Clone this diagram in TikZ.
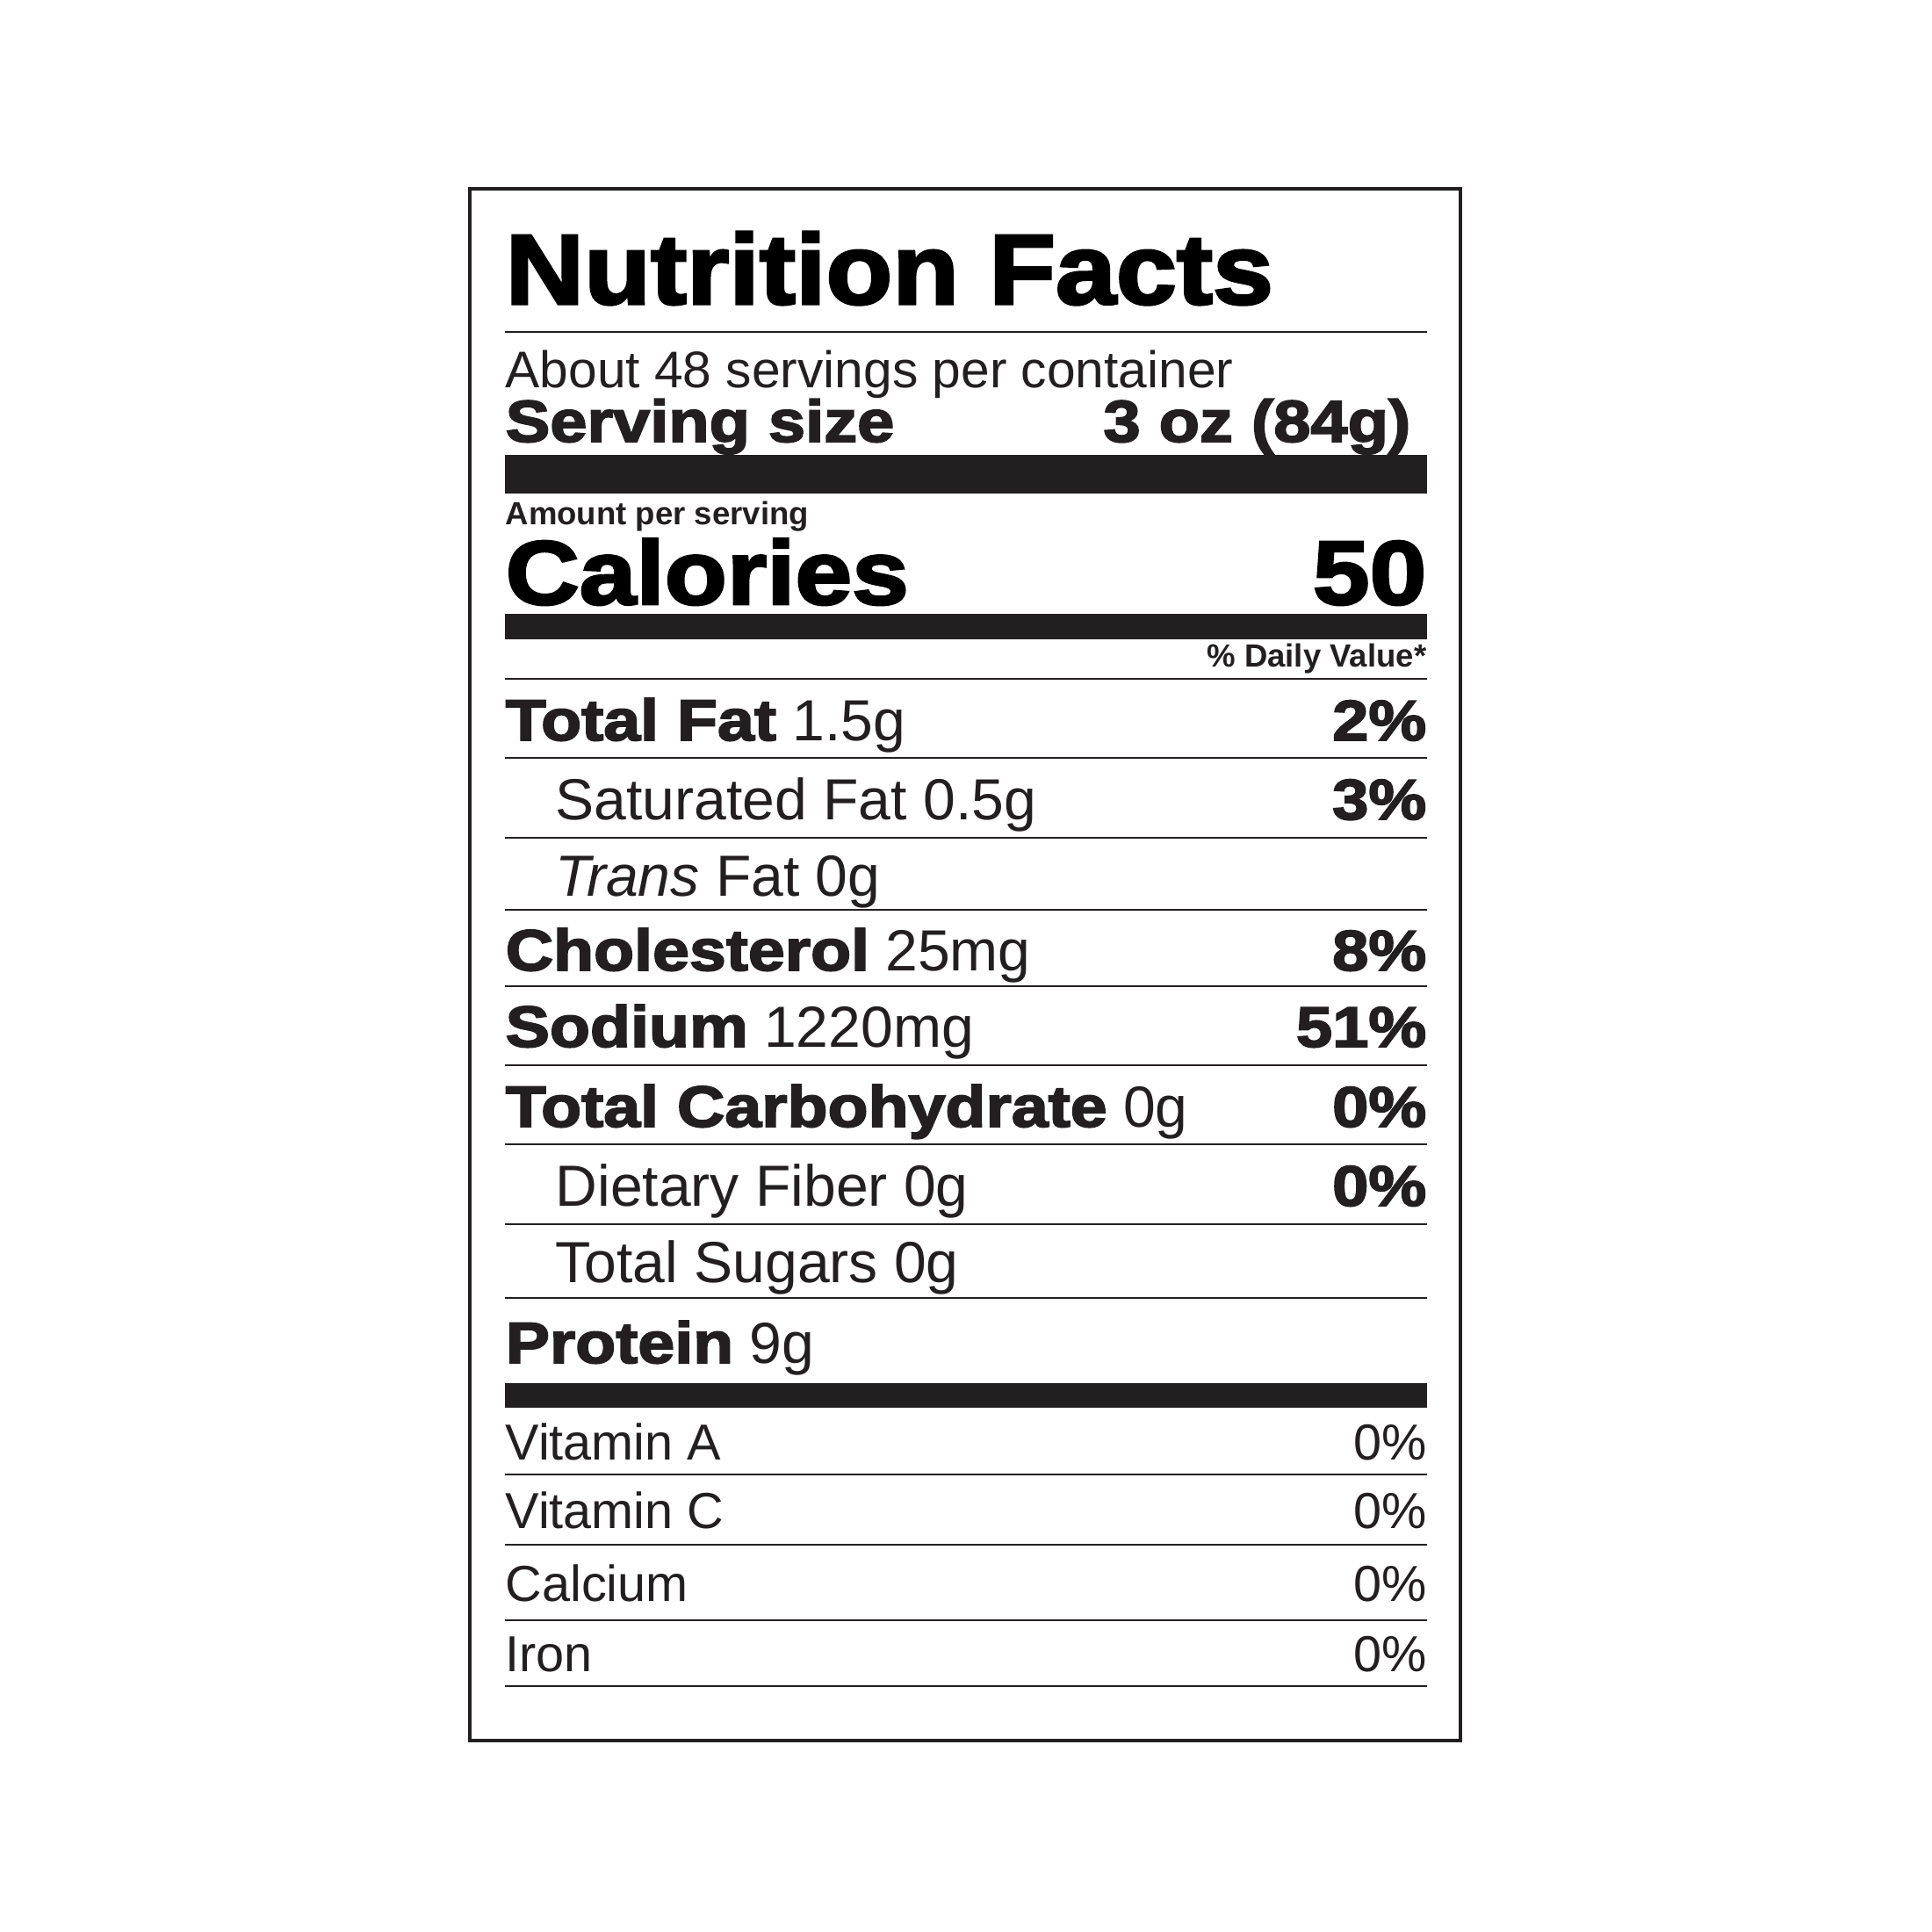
\documentclass[tikz,border=0pt]{standalone}
\usepackage{fontspec}
\setmainfont{Liberation Sans}
\newfontfamily\titlefont{Liberation Sans Bold}[FakeStretch=1.095,FakeBold=2.8]
\newfontfamily\heavy{Liberation Sans Bold}[FakeStretch=1.13,FakeBold=2.8]
\newfontfamily\rowheavy{Liberation Sans Bold}[FakeStretch=1.14,FakeBold=2.8]
\definecolor{ink}{HTML}{231F20}
\newcommand\fsize[1]{\fontsize{#1}{#1}\selectfont}
\tikzset{
  fact/.style={inner sep=0pt, anchor=base west, text=ink},
  fact right/.style={inner sep=0pt, anchor=base east, text=ink},
  hair rule/.style={draw=ink, line width=0.2mm},
  black bar/.style={fill=ink},
  label frame/.style={draw=ink, line width=0.35mm},
}

\begin{document}
\begin{tikzpicture}
\useasboundingbox (0,0) rectangle (22,-22);
\draw[label frame] (5.35,-2.15) rectangle (16.63,-19.82);
% header
\node[fact, text=black] (title) at (5.75,-3.46) {\fsize{32.2pt}\titlefont Nutrition Facts};
\draw[hair rule] (5.75,-3.78) -- (16.25,-3.78);
\node[fact] (servings) at (5.75,-4.41) {\fsize{16.7pt}About 48 servings per container};
\node[fact] (size) at (5.75,-5.03) {\fsize{19.1pt}\heavy Serving size};
\node[fact right] (size value) at (16.07,-5.03) {\fsize{19.1pt}\heavy 3 oz (84g)};
\fill[black bar] (5.75,-5.18) rectangle (16.25,-5.62);
\node[fact] (amount) at (5.75,-5.97) {\fsize{10.4pt}\bfseries Amount per serving};
\node[fact, text=black] (calories) at (5.75,-6.88) {\fsize{29.3pt}\heavy Calories};
\node[fact right, text=black] (calories value) at (16.25,-6.88) {\fsize{29.3pt}\heavy 50};
\fill[black bar] (5.75,-6.99) rectangle (16.25,-7.28);
\node[fact right] (daily) at (16.25,-7.59) {\fsize{10.4pt}\bfseries \% Daily Value*};
% rules between the rows
\foreach \y in {7.73,8.63,9.54,10.36,11.23,12.13,13.03,13.94,14.78,16.79,17.59,18.45,19.20}
  \draw[hair rule] (5.75,-\y) -- (16.25,-\y);
\fill[black bar] (5.75,-15.75) rectangle (16.25,-16.03);
% nutrients
\foreach \nm/\x/\y/\txt in {
  fat/5.75/8.43/{{\rowheavy Total Fat} 1.5g},
  satfat/6.32/9.33/{Saturated Fat 0.5g},
  transfat/6.32/10.20/{{\itshape Trans} Fat 0g},
  chol/5.75/11.05/{{\rowheavy Cholesterol} 25mg},
  sodium/5.75/11.92/{{\rowheavy Sodium} 1220mg},
  carb/5.75/12.83/{{\rowheavy Total Carbohydrate} 0g},
  fiber/6.32/13.73/{Dietary Fiber 0g},
  sugars/6.32/14.60/{Total Sugars 0g},
  protein/5.75/15.52/{{\rowheavy Protein} 9g}}
  \node[fact] (\nm) at (\x,-\y) {\fsize{18.8pt}\txt};
\foreach \nm/\y/\dv in {fat/8.43/2, satfat/9.33/3, chol/11.05/8, sodium/11.92/51, carb/12.83/0, fiber/13.73/0}
  \node[fact right] (\nm dv) at (16.25,-\y) {\fsize{18.5pt}\rowheavy \dv\%};
% vitamins and minerals
\foreach \nm/\y/\txt in {vita/16.62/Vitamin A, vitc/17.40/Vitamin C, calcium/18.23/Calcium, iron/19.03/Iron}
{
  \node[fact] (\nm) at (5.75,-\y) {\fsize{16.4pt}\txt};
  \node[fact right] (\nm dv) at (16.25,-\y) {\fsize{16.4pt}0\%};
}
\end{tikzpicture}
\end{document}
